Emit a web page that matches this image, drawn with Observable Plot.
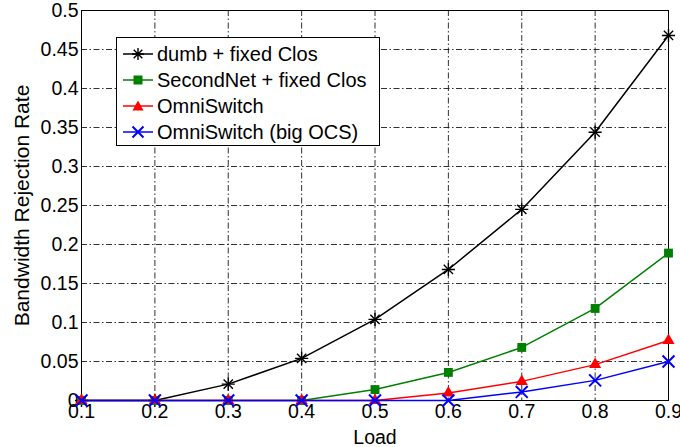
<!DOCTYPE html>
<html>
<head>
<meta charset="utf-8">
<script src="https://cdn.jsdelivr.net/npm/d3@7"></script>
<script src="https://cdn.jsdelivr.net/npm/@observablehq/plot@0.6"></script>
<style>
  html, body { margin: 0; padding: 0; background: #fff; }
  #wrap { position: relative; width: 680px; height: 447px; font-family: "Liberation Sans", Arial, Helvetica, sans-serif; }
  #legend { position: absolute; left: 116px; top: 37px; width: 262px; height: 107px; border: 1px solid #000; background: #fff; }
  .row { position: absolute; left: 0; height: 26px; display: flex; align-items: center; font-size: 20px; color: #000; white-space: nowrap; }
  .row svg { margin-left: 6px; margin-right: 4px; }
  g[aria-label="y-axis label"] { font-size: 21px !important; }
</style>
</head>
<body>
<div id="wrap"></div>
<script>
const load = [0.1, 0.2, 0.3, 0.4, 0.5, 0.6, 0.7, 0.8, 0.9];
const dumbFixedClos = [0, 0, 0.021, 0.054, 0.104, 0.168, 0.245, 0.344, 0.468];
const secondNetFixedClos = [0, 0, 0, 0, 0.014, 0.036, 0.068, 0.118, 0.189];
const omniSwitch = [0, 0, 0, 0, 0, 0.0095, 0.0245, 0.046, 0.077];
const omniSwitchBigOCS = [0, 0, 0, 0, 0, 0, 0.011, 0.0258, 0.05];

const seriesNames = ["dumb + fixed Clos", "SecondNet + fixed Clos", "OmniSwitch", "OmniSwitch (big OCS)"];
const seriesColors = ["#000000", "#008000", "#ff0000", "#0000ff"];
const xTicks = [0.1, 0.2, 0.3, 0.4, 0.5, 0.6, 0.7, 0.8, 0.9];
const yTicks = [0, 0.05, 0.1, 0.15, 0.2, 0.25, 0.3, 0.35, 0.4, 0.45, 0.5];

const seriesValues = [dumbFixedClos, secondNetFixedClos, omniSwitch, omniSwitchBigOCS];
const data = seriesValues.map((vals, i) => load.map((x, j) => ({x, y: vals[j], s: seriesNames[i], color: seriesColors[i]})));

const fmt = d => String(+d.toFixed(2));
const dash = "6,2.5,1.5,2.5";
const font = "Liberation Sans, Arial, Helvetica, sans-serif";

const chart = Plot.plot({
  width: 680,
  height: 447,
  marginLeft: 81,
  marginRight: 12,
  marginTop: 10,
  marginBottom: 47,
  style: {fontFamily: font, fontSize: "19.5px", color: "#000", background: "#fff"},
  x: {domain: [0.1, 0.9], ticks: xTicks, tickFormat: fmt, label: "Load"},
  y: {domain: [0, 0.5], ticks: yTicks, tickFormat: fmt, label: "Bandwidth Rejection Rate"},
  marks: [
    Plot.ruleY(yTicks.slice(1, -1), {stroke: "#1a1a1a", strokeWidth: 0.9, strokeDasharray: dash}),
    Plot.ruleX(xTicks.slice(1, -1), {stroke: "#1a1a1a", strokeWidth: 0.9, strokeDasharray: dash}),
    Plot.axisX({ticks: xTicks, tickFormat: fmt, tickSize: 0, tickPadding: 4, fontSize: 19.5,
      label: "Load", labelAnchor: "center", labelArrow: "none", labelOffset: 43}),
    Plot.axisY({ticks: yTicks, tickFormat: fmt, tickSize: 0, tickPadding: 3, fontSize: 19.5,
      label: "Bandwidth Rejection Rate", labelAnchor: "center", labelArrow: "none", labelOffset: 67}),
    Plot.frame({stroke: "#000", strokeWidth: 1}),
    // dumb + fixed Clos
    Plot.line(data[0], {x: "x", y: "y", stroke: seriesColors[0], strokeWidth: 1.5}),
    Plot.dot(data[0], {x: "x", y: "y", symbol: "plus", r: 4.3, stroke: seriesColors[0], strokeWidth: 1.4}),
    Plot.dot(data[0], {x: "x", y: "y", symbol: "times", r: 4.3, stroke: seriesColors[0], strokeWidth: 1.4}),
    // SecondNet
    Plot.line(data[1], {x: "x", y: "y", stroke: seriesColors[1], strokeWidth: 1.5}),
    Plot.dot(data[1], {x: "x", y: "y", symbol: "square", r: 5, fill: seriesColors[1], stroke: "none"}),
    // OmniSwitch
    Plot.line(data[2], {x: "x", y: "y", stroke: seriesColors[2], strokeWidth: 1.5}),
    Plot.dot(data[2], {x: "x", y: "y", symbol: "triangle", r: 4.5, fill: seriesColors[2], stroke: "none"}),
    // OmniSwitch (big OCS)
    Plot.line(data[3], {x: "x", y: "y", stroke: seriesColors[3], strokeWidth: 1.5}),
    Plot.dot(data[3], {x: "x", y: "y", symbol: "times", r: 5.5, stroke: seriesColors[3], strokeWidth: 2})
  ]
});

const wrap = document.getElementById("wrap");
wrap.appendChild(chart);

// Legend
const legend = document.createElement("div");
legend.id = "legend";
const markerSvg = [
  `<line x1="0" y1="8" x2="30" y2="8" stroke="#000" stroke-width="1.5"/>
   <path d="M15,2V14M9,8H21M10.7,3.7L19.3,12.3M10.7,12.3L19.3,3.7" stroke="#000" stroke-width="1.4" fill="none"/>`,
  `<line x1="0" y1="8" x2="30" y2="8" stroke="#008000" stroke-width="1.5"/>
   <rect x="10.5" y="3.5" width="9" height="9" fill="#008000"/>`,
  `<line x1="0" y1="8" x2="30" y2="8" stroke="#ff0000" stroke-width="1.5"/>
   <path d="M15,2.5L20.5,12.5H9.5Z" fill="#ff0000"/>`,
  `<line x1="0" y1="8" x2="30" y2="8" stroke="#0000ff" stroke-width="1.5"/>
   <path d="M9.5,2.5L20.5,13.5M9.5,13.5L20.5,2.5" stroke="#0000ff" stroke-width="2" fill="none"/>`
];
seriesNames.forEach((name, i) => {
  const row = document.createElement("div");
  row.className = "row";
  row.style.top = (3 + i * 26) + "px";
  row.innerHTML = `<svg width="30" height="16" viewBox="0 0 30 16">${markerSvg[i]}</svg><span>${name}</span>`;
  legend.appendChild(row);
});
wrap.appendChild(legend);
</script>
</body>
</html>
